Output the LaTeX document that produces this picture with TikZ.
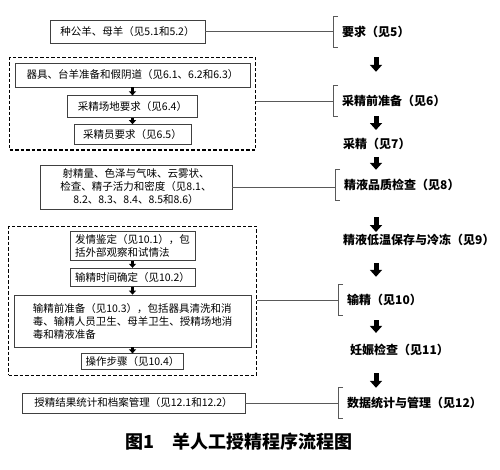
\documentclass[tikz,border=0pt]{standalone}
\usepackage{fontspec}
\setmainfont{Noto Sans CJK SC}
\usetikzlibrary{positioning, fit, arrows.meta}

\begin{document}
\begin{tikzpicture}[
    x=1pt, y=-1pt,
    box/.style={rectangle, draw=black!75, line width=0.8pt, fill=white,
                inner xsep=4pt, inner ysep=3pt, align=center,
                font=\fontsize{10.5}{13}\selectfont},
    group/.style={draw, line width=1.2pt, dash pattern=on 3.5pt off 2pt,
                  inner sep=5pt},
    stage/.style={anchor=west, inner sep=2pt,
                  font=\fontsize{12}{15}\selectfont\bfseries},
    bracketed/.style={stage, minimum height=30pt, inner xsep=9pt},
    link/.style={draw=black!65, line width=0.7pt},
    bigarrow/.style={-{Triangle[length=7pt,width=12pt]}, line width=5pt},
    smallarrow/.style={-{Triangle[length=4pt,width=7pt]}, line width=2.5pt}
  ]
    \useasboundingbox (0,0) rectangle (500,470);

    % left column
    \node[box, minimum width=155pt, minimum height=23pt] (sheep) at (127.5,31.5)
        {种公羊、母羊（见5.1和5.2）};

    \node[box, minimum width=235pt, minimum height=24pt] (dev) at (132.5,75)
        {器具、台羊准备和假阴道（见6.1、6.2和6.3）};
    \node[box, minimum width=130pt, minimum height=22pt, below=8pt of dev] (site)
        {采精场地要求（见6.4）};
    \node[box, minimum width=117pt, minimum height=20pt, below=6pt of site] (staff)
        {采精员要求（见6.5）};
    \node[group, fit=(dev)(site)(staff)] (collgrp) {};

    \node[box, minimum width=192pt, minimum height=44pt] (semen) at (136,187)
        {射精量、色泽与气味、云雾状、\\检查、精子活力和密度（见8.1、\\8.2、8.3、8.4、8.5和8.6）};

    \node[box, minimum width=125pt, align=left] (estrus) at (132.5,246)
        {发情鉴定（见10.1），包\\括外部观察和试情法};
    \node[box, minimum width=125pt, minimum height=18pt, below=7pt of estrus] (timing)
        {输精时间确定（见10.2）};
    \node[box, minimum width=237pt, minimum height=52pt, align=left, below=8pt of timing] (insprep)
        {输精前准备（见10.3），包括器具清洗和消\\毒、输精人员卫生、母羊卫生、授精场地消\\毒和精液准备};
    \node[box, minimum width=95pt, minimum height=16pt, below=6pt of insprep] (oper)
        {操作步骤（见10.4）};
    \node[group, fit=(estrus)(timing)(insprep)(oper)] (insgrp) {};

    \node[box, minimum width=223pt, minimum height=20pt] (rec) at (133.5,403)
        {授精结果统计和档案管理（见12.1和12.2）};

    % right column
    \node[bracketed] (req)     at (333,32)  {要求（见5）};
    \node[bracketed] (prep)    at (333,101) {采精前准备（见6）};
    \node[stage]     (collect) at (341,144) {采精（见7）};
    \node[bracketed] (qual)    at (335,185) {精液品质检查（见8）};
    \node[stage]     (store)   at (341,240) {精液低温保存与冷冻（见9）};
    \node[bracketed] (insem)   at (338,300) {输精（见10）};
    \node[stage]     (preg)    at (348,350) {妊娠检查（见11）};
    \node[bracketed] (data)    at (338,403) {数据统计与管理（见12）};

    \node[font=\fontsize{18}{20}\selectfont\bfseries] (title) at (239,442)
        {图1\quad 羊人工授精程序流程图};

    % brackets
    \foreach \n in {req, prep, qual, insem, data}
      \draw[link, line width=0.9pt] ([xshift=5pt]\n.north west) -- (\n.north west)
        -- (\n.south west) -- ([xshift=5pt]\n.south west);

    % links
    \draw[link] (sheep.east) -- (req.west |- sheep.east);
    \draw[link] (collgrp.east |- prep.west) -- (prep.west);
    \draw[link] (semen.east) -- (qual.west |- semen.east);
    \draw[link] (insgrp.east |- insem.west) -- (insem.west);
    \draw[link] (rec.east) -- (data.west |- rec.east);

    % small arrows
    \draw[smallarrow] (dev) -- (site);
    \draw[smallarrow] (site) -- (staff);
    \draw[smallarrow] (estrus) -- (timing);
    \draw[smallarrow] (timing) -- (insprep);
    \draw[smallarrow] (insprep) -- (oper);

    % main arrows
    \coordinate (ax) at (376,0);
    \draw[bigarrow, shorten <=10pt, shorten >=14pt] (req.south -| ax) -- (prep.north -| ax);
    \draw[bigarrow, shorten <=0pt, shorten >=6pt] (prep.south -| ax) -- (collect.north -| ax);
    \draw[bigarrow, shorten <=5pt] (collect.south -| ax) -- (qual.north -| ax);
    \draw[bigarrow, shorten <=17pt] (qual.south -| ax) -- (store.north -| ax);
    \draw[bigarrow, shorten <=15pt, shorten >=8pt] (store.south -| ax) -- (insem.north -| ax);
    \draw[bigarrow, shorten <=5pt, shorten >=9pt] (insem.south -| ax) -- (preg.north -| ax);
    \draw[bigarrow, shorten <=15pt] (preg.south -| ax) -- (data.north -| ax);
\end{tikzpicture}
\end{document}
